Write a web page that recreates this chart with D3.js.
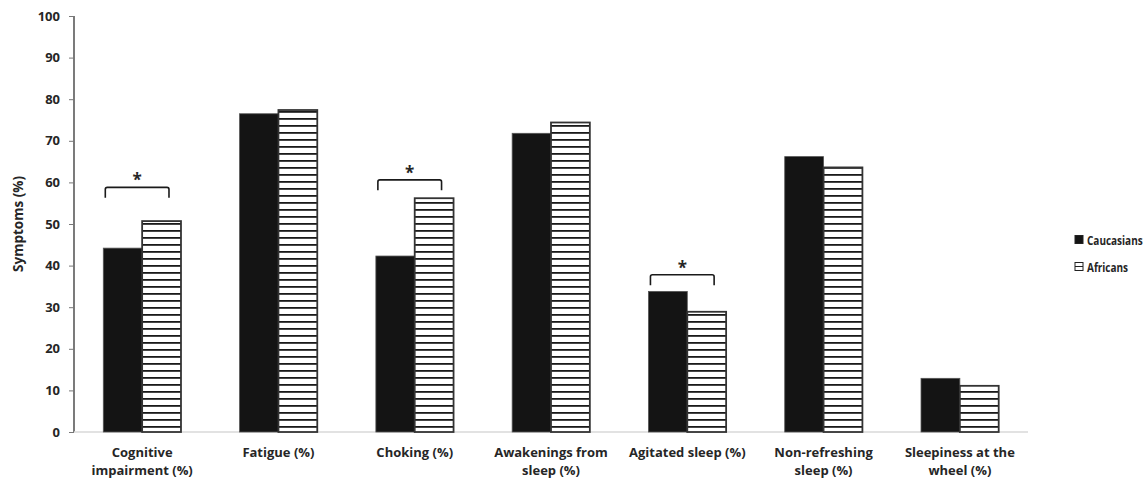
<!DOCTYPE html>
<html>
<head>
<meta charset="utf-8">
<script src="https://cdn.jsdelivr.net/npm/d3@7"></script>
<style>
  body { margin: 0; background: #fff; }
  svg text { font-family: "Open Sans", "Noto Sans", sans-serif; font-weight: 700; fill: #262626; }
</style>
</head>
<body>
<div id="chart"></div>
<script>
const categories = [
  ['Cognitive', 'impairment (%)'],
  ['Fatigue (%)'],
  ['Choking (%)'],
  ['Awakenings from', 'sleep (%)'],
  ['Agitated sleep (%)'],
  ['Non-refreshing', 'sleep (%)'],
  ['Sleepiness at the', 'wheel (%)'],
];
const seriesNames = ['Caucasians', 'Africans'];
const caucasians = [44.2, 76.5, 42.3, 71.8, 33.8, 66.2, 12.9];
const africans = [50.7, 77.4, 56.2, 74.4, 28.9, 63.6, 11.1];
const yTicks = [0, 10, 20, 30, 40, 50, 60, 70, 80, 90, 100];
// significance brackets: category index, bracket level (%)
const brackets = [
  { cat: 0, level: 58.8 },
  { cat: 2, level: 60.6 },
  { cat: 4, level: 37.8 },
];

const width = 1146;
const height = 486;
const margin = { top: 16, right: 118, bottom: 54, left: 74 };
const plotW = 1028 - margin.left;
const plotH = 432 - margin.top;

const svg = d3.select('#chart').append('svg')
  .attr('width', width)
  .attr('height', height);

const defs = svg.append('defs');
const hatch = defs.append('pattern')
  .attr('id', 'hatch')
  .attr('patternUnits', 'userSpaceOnUse')
  .attr('width', 10)
  .attr('height', 7)
  .attr('patternTransform', 'translate(0,4)');
hatch.append('rect').attr('width', 10).attr('height', 7).attr('fill', '#fff');
hatch.append('rect').attr('y', 0).attr('width', 10).attr('height', 1.8).attr('fill', '#1a1a1a');

const g = svg.append('g')
  .attr('transform', `translate(${margin.left},${margin.top})`);

const x = d3.scaleBand()
  .domain(d3.range(categories.length))
  .range([0, plotW])
  .paddingInner(0.43)
  .paddingOuter(0.215);

const xs = d3.scaleBand()
  .domain(seriesNames)
  .range([0, x.bandwidth()]);

const y = d3.scaleLinear()
  .domain([0, 100])
  .range([plotH, 0]);

// y axis
const yAxis = g.append('g')
  .call(d3.axisLeft(y).tickValues(yTicks).tickSize(5).tickPadding(9));
yAxis.select('.domain').attr('stroke', '#222').attr('stroke-width', 1.2)
  .attr('d', `M0,${plotH}V0`);
yAxis.selectAll('.tick line').attr('stroke', '#777');
yAxis.selectAll('.tick text')
  .attr('font-size', 13)
  .attr('font-family', '"Open Sans", sans-serif')
  .attr('font-weight', 700)
  .attr('fill', '#262626');

// x axis baseline
g.append('line')
  .attr('x1', 0).attr('x2', plotW)
  .attr('y1', plotH).attr('y2', plotH)
  .attr('stroke', '#d9d9d9')
  .attr('stroke-width', 1.5);

const groups = g.selectAll('.group')
  .data(categories.map((c, i) => ({ i, values: [caucasians[i], africans[i]] })))
  .enter()
  .append('g')
    .attr('class', 'group')
    .attr('transform', d => `translate(${x(d.i)},0)`);

groups.append('rect')
  .attr('x', xs('Caucasians'))
  .attr('width', xs.bandwidth())
  .attr('y', d => y(d.values[0]))
  .attr('height', d => plotH - y(d.values[0]))
  .attr('fill', '#141414')
  .attr('stroke', '#555')
  .attr('stroke-width', 0.8);

groups.append('rect')
  .attr('x', xs('Africans'))
  .attr('width', xs.bandwidth())
  .attr('y', d => y(d.values[1]))
  .attr('height', d => plotH - y(d.values[1]))
  .attr('fill', 'url(#hatch)')
  .attr('stroke', '#333')
  .attr('stroke-width', 1.8);

// brackets
const bw = x.bandwidth();
const br = g.selectAll('.bracket')
  .data(brackets)
  .enter()
  .append('g')
    .attr('class', 'bracket');

br.append('path')
  .attr('fill', 'none')
  .attr('stroke', '#1a1a1a')
  .attr('stroke-width', 1.6)
  .attr('d', (d) => {
    const x0 = x(d.cat) + 2;
    const x1 = x(d.cat) + bw - 12;
    const yTop = y(d.level);
    const yLeg = y(d.level - 2.5);
    return `M${x0},${yLeg}V${yTop + 2}Q${x0},${yTop} ${x0 + 2},${yTop}H${x1 - 2}Q${x1},${yTop} ${x1},${yTop + 2}V${yLeg}`;
  });

br.append('text')
  .attr('x', d => x(d.cat) + bw / 2 - 5)
  .attr('y', d => y(d.level) - 1)
  .attr('text-anchor', 'middle')
  .attr('font-size', 17)
  .attr('font-family', '"DejaVu Sans", sans-serif')
  .attr('fill', '#1a1a1a')
  .text('*');

// x labels
const labels = g.selectAll('.xlabel')
  .data(categories)
  .enter()
  .append('text')
    .attr('class', 'xlabel')
    .attr('x', (d, i) => x(i) + bw / 2)
    .attr('y', plotH + 25)
    .attr('text-anchor', 'middle')
    .attr('font-size', 13);

labels.selectAll('tspan')
  .data(d => d)
  .enter()
  .append('tspan')
    .attr('x', function () { return d3.select(this.parentNode).attr('x'); })
    .attr('dy', (d, i) => (i === 0 ? 0 : 18))
    .text(d => d);

// y title
svg.append('text')
  .attr('transform', `translate(23,${margin.top + plotH / 2}) rotate(-90)`)
  .attr('text-anchor', 'middle')
  .attr('font-size', 13.5)
  .text('Symptoms (%)');

// legend
const legend = svg.append('g')
  .attr('transform', 'translate(1075,240)');

const items = legend.selectAll('.item')
  .data(seriesNames)
  .enter()
  .append('g')
    .attr('class', 'item')
    .attr('transform', (d, i) => `translate(0,${i * 27})`);

items.append('rect')
  .attr('x', 0).attr('y', -4.5)
  .attr('width', 8).attr('height', 8)
  .attr('fill', (d, i) => (i === 0 ? '#141414' : '#fff'))
  .attr('stroke', '#222')
  .attr('stroke-width', 1);

items.filter((d, i) => i === 1)
  .append('line')
  .attr('x1', 0).attr('x2', 8)
  .attr('y1', -0.5).attr('y2', -0.5)
  .attr('stroke', '#222');

items.append('text')
  .attr('transform', 'translate(12,4.5) scale(0.8,1)')
  .attr('font-size', 12.5)
  .text(d => d);
</script>
</body>
</html>
